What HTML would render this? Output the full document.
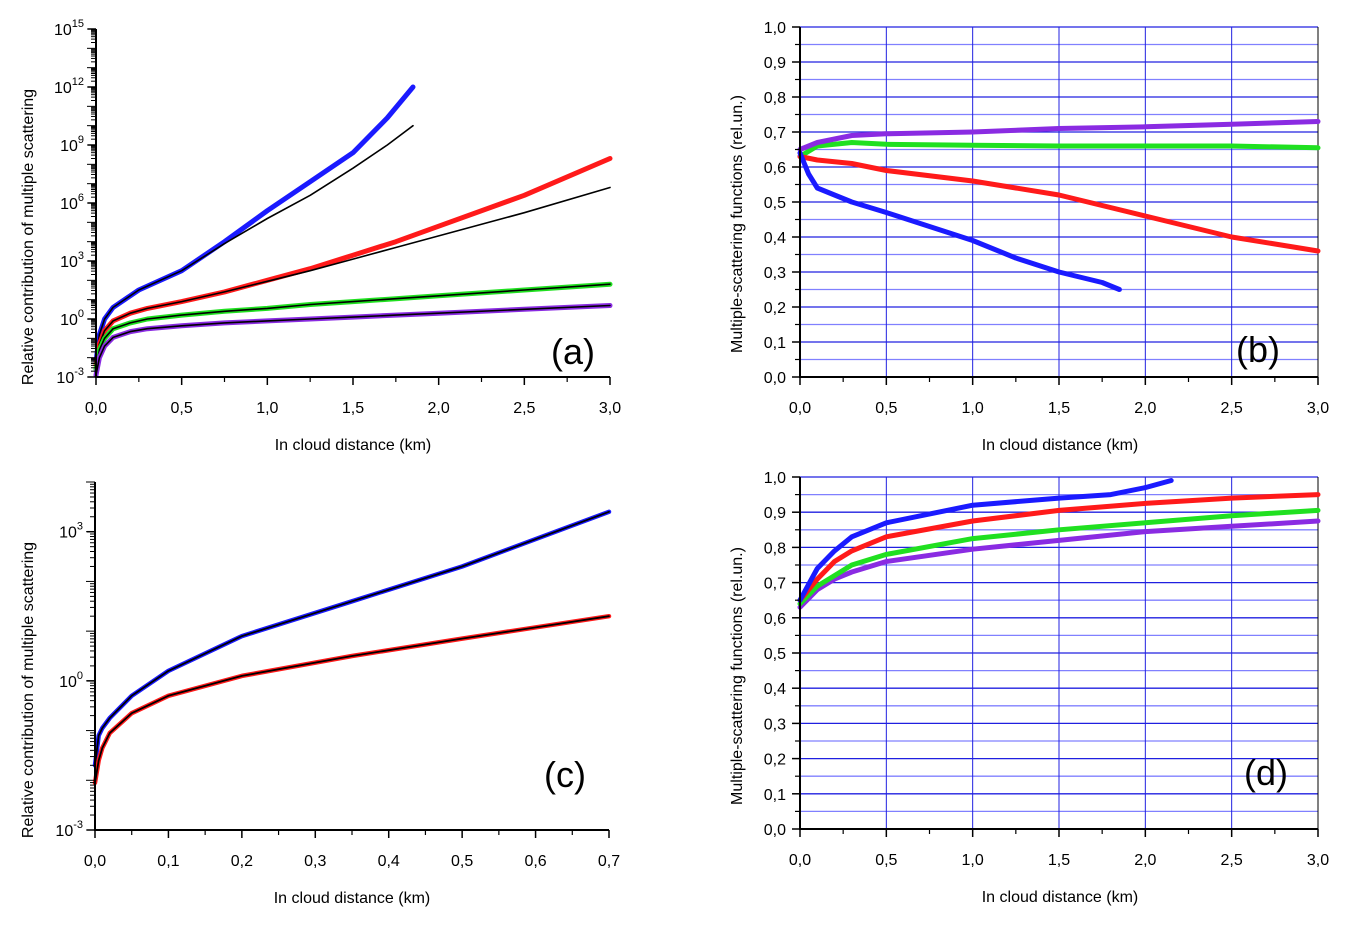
<!DOCTYPE html>
<html><head><meta charset="utf-8">
<style>
html,body{margin:0;padding:0;background:#fff;}
svg{display:block;font-family:"Liberation Sans",Arial,sans-serif;}
</style></head>
<body>
<svg id="fig" width="1349" height="925" viewBox="0 0 1349 925" xmlns="http://www.w3.org/2000/svg"></svg>
<script>
// ---------- Panel (a) data: log10 values ----------
const aX = [0,0.02,0.05,0.1,0.2,0.3,0.5,0.75,1.0,1.25,1.5,1.75,2.0,2.5,3.0];
const aBlueX = [0,0.02,0.05,0.1,0.25,0.5,0.75,1.0,1.25,1.5,1.7,1.85];
const aBlue = [-2.2,-0.8,0.0,0.6,1.5,2.5,4.0,5.6,7.1,8.6,10.4,12.0];
const aBlueFit = [-2.2,-0.8,0.0,0.6,1.5,2.5,3.9,5.2,6.4,7.8,9.0,10.0];
const aRed = [-2.4,-1.3,-0.6,-0.1,0.3,0.55,0.9,1.4,2.0,2.6,3.3,4.0,4.8,6.4,8.3];
const aRedFit = [-2.4,-1.3,-0.6,-0.1,0.3,0.55,0.9,1.4,1.95,2.5,3.1,3.7,4.3,5.5,6.8];
const aGreen = [-2.6,-1.6,-1.0,-0.5,-0.2,0.0,0.2,0.4,0.55,0.75,0.9,1.05,1.2,1.5,1.8];
const aPurple = [-2.9,-2.0,-1.4,-0.95,-0.65,-0.5,-0.35,-0.2,-0.1,0.0,0.1,0.2,0.3,0.5,0.7];
// ---------- Panel (b) ----------
const bBlueX = [0,0.05,0.1,0.2,0.3,0.5,0.75,1.0,1.25,1.5,1.75,1.85];
const bBlue = [0.64,0.58,0.54,0.52,0.50,0.47,0.43,0.39,0.34,0.30,0.27,0.25];
const bX = [0,0.1,0.3,0.5,1.0,1.5,2.0,2.5,3.0];
const bRed = [0.63,0.62,0.61,0.59,0.56,0.52,0.46,0.40,0.36];
const bGreen = [0.63,0.66,0.67,0.665,0.662,0.66,0.66,0.66,0.655];
const bPurple = [0.65,0.67,0.69,0.695,0.70,0.71,0.715,0.722,0.73];
// ---------- Panel (c): log10 ----------
const cX = [0,0.005,0.01,0.02,0.05,0.1,0.2,0.35,0.5,0.7];
const cBlue = [-1.7,-1.1,-0.95,-0.75,-0.3,0.2,0.9,1.6,2.3,3.4];
const cRed = [-2.05,-1.6,-1.35,-1.05,-0.65,-0.3,0.1,0.5,0.85,1.3];
// ---------- Panel (d) ----------
const dBlueX = [0,0.1,0.2,0.3,0.5,1.0,1.5,1.8,2.0,2.15];
const dBlue = [0.65,0.74,0.79,0.83,0.87,0.92,0.94,0.95,0.97,0.99];
const dX = [0,0.1,0.2,0.3,0.5,1.0,1.5,2.0,2.5,3.0];
const dRed = [0.65,0.71,0.76,0.79,0.83,0.875,0.905,0.925,0.94,0.95];
const dGreen = [0.64,0.69,0.72,0.75,0.78,0.825,0.85,0.87,0.89,0.905];
const dPurple = [0.63,0.68,0.71,0.73,0.76,0.795,0.82,0.845,0.86,0.875];

const NS="http://www.w3.org/2000/svg";
const svg=document.getElementById('fig');
function el(tag,attrs,parent){const e=document.createElementNS(NS,tag);for(const k in attrs)e.setAttribute(k,attrs[k]);(parent||svg).appendChild(e);return e;}
function txt(x,y,s,size,anchor,parent){const t=el('text',{x:x,y:y,'font-size':size,'text-anchor':anchor||'middle',fill:'#000'},parent);t.textContent=s;return t;}

function panel(cfg){
  const g=el('g',{});
  
  
  const sx=v=>cfg.x0+(v-cfg.xmin)/(cfg.xmax-cfg.xmin)*(cfg.x1-cfg.x0);
  const sy=v=>cfg.y0-(v-cfg.ymin)/(cfg.ymax-cfg.ymin)*(cfg.y0-cfg.y1);
  if(cfg.grid){
    for(let v=cfg.ymin;v<=cfg.ymax+1e-9;v+=0.05){
      const l=el('line',{x1:cfg.x0,x2:cfg.x1,y1:sy(v),y2:sy(v),stroke:(Math.round(v*20)%2)?'#8080ff':'#2020e0','stroke-width':1.3},g);
      
      
    }
    for(let v=0.5;v<cfg.xmax-1e-9;v+=0.5){
      const l=el('line',{x1:sx(v),x2:sx(v),y1:cfg.y0,y2:cfg.y1,stroke:'#2020e0','stroke-width':1},g);
      
      
    }
    el('line',{x1:cfg.x1,x2:cfg.x1,y1:cfg.y0,y2:cfg.y1,stroke:'#000','stroke-width':1},g);
  }
  cfg.series.forEach(s=>{
    const pts=s.xs.map((x,i)=>sx(x).toFixed(1)+','+sy(s.ys[i]).toFixed(1)).join(' ');
    const p=el('polyline',{points:pts,fill:'none',stroke:s.color,'stroke-width':s.w,'stroke-linejoin':'round','stroke-linecap':'round'},g);
    
    
  });
  const ax=el('path',{d:`M${cfg.x0},${cfg.y1} V${cfg.y0} H${cfg.x1}`,stroke:'#000','stroke-width':2,fill:'none'},g);
  
  
  cfg.xticks.forEach((v,i)=>{
    el('line',{x1:sx(v),x2:sx(v),y1:cfg.y0,y2:cfg.y0+8,stroke:'#000','stroke-width':1.5},g);
    const t=txt(sx(v),cfg.y0+36,cfg.xlabels[i],16,'middle',g);
    
    
  });
  for(let i=0;i<cfg.xticks.length-1;i++){const m=(cfg.xticks[i]+cfg.xticks[i+1])/2;el('line',{x1:sx(m),x2:sx(m),y1:cfg.y0,y2:cfg.y0+5,stroke:'#000','stroke-width':1.2},g);}
  if(cfg.log){
    for(let d=Math.floor(cfg.ymin);d<cfg.ymax;d++){
      for(let k=1;k<=9;k++){const v=d+Math.log10(k);if(v>cfg.ymax)break;
        el('line',{x1:cfg.x0-(k==1?9:5),x2:cfg.x0,y1:sy(v),y2:sy(v),stroke:'#000','stroke-width':1},g);}
    }
    el('line',{x1:cfg.x0-9,x2:cfg.x0,y1:sy(cfg.ymax),y2:sy(cfg.ymax),stroke:'#000','stroke-width':1},g);
  }
  cfg.yticks.forEach((v,i)=>{
    el('line',{x1:cfg.x0-8,x2:cfg.x0,y1:sy(v),y2:sy(v),stroke:'#000','stroke-width':1.5},g);
    let t;
    if(cfg.log){
      t=el('text',{x:cfg.x0-12,y:sy(v)+6,'font-size':16,'text-anchor':'end'},g);
      t.innerHTML='10<tspan dy="-8" font-size="11">'+cfg.ylabels[i]+'</tspan>';
    } else {t=txt(cfg.x0-14,sy(v)+6,cfg.ylabels[i],16,'end',g);
      if(v<cfg.ymax-1e-9) el('line',{x1:cfg.x0-5,x2:cfg.x0,y1:sy(v+0.05),y2:sy(v+0.05),stroke:'#000','stroke-width':1.2},g);}
    
    
  });
  const xt=txt(cfg.xtx,cfg.y0+73,'In cloud distance (km)',16,'middle',g);
  
  
  const yt=el('text',{x:0,y:0,'font-size':16,'text-anchor':'middle',transform:`translate(${cfg.ytx},${cfg.yty}) rotate(-90)`},g);
  yt.textContent=cfg.ytitle;
  
  
  const lb=txt(cfg.lbx,cfg.lby,cfg.letter,36,'middle',g);
  
  
}
const x3=[0,0.5,1,1.5,2,2.5,3], x3l=['0,0','0,5','1,0','1,5','2,0','2,5','3,0'];
const lin=[0,0.1,0.2,0.3,0.4,0.5,0.6,0.7,0.8,0.9,1.0], linl=lin.map(v=>v.toFixed(1).replace('.',','));
panel({name:'panel-a',x0:96,x1:610,y0:377,y1:29,xmin:0,xmax:3,ymin:-3,ymax:15,log:true,
  xticks:x3,xlabels:x3l,yticks:[-3,0,3,6,9,12,15],ylabels:['-3','0','3','6','9','12','15'],
  xtx:353,ytx:33,yty:237,ytitle:'Relative contribution of multiple scattering',letter:'(a)',lbx:573,lby:364,
  series:[
    {name:'series-blue',xs:aBlueX,ys:aBlue,color:'#1a1aff',w:5},
    {name:'fit-blue',xs:aBlueX,ys:aBlueFit,color:'#000',w:1.6},
    {name:'series-red',xs:aX,ys:aRed,color:'#ff1a1a',w:5},
    {name:'fit-red',xs:aX,ys:aRedFit,color:'#000',w:1.6},
    {name:'series-green',xs:aX,ys:aGreen,color:'#20e020',w:5},
    {name:'fit-green',xs:aX,ys:aGreen,color:'#000',w:1.6},
    {name:'series-purple',xs:aX,ys:aPurple,color:'#8a2be2',w:5},
    {name:'fit-purple',xs:aX,ys:aPurple,color:'#000',w:1.6}]});
panel({name:'panel-b',x0:800,x1:1318,y0:377,y1:27,xmin:0,xmax:3,ymin:0,ymax:1,grid:true,
  xticks:x3,xlabels:x3l,yticks:lin,ylabels:linl,
  xtx:1060,ytx:742,yty:224,ytitle:'Multiple-scattering functions (rel.un.)',letter:'(b)',lbx:1258,lby:362,
  series:[
    {name:'series-green',xs:bX,ys:bGreen,color:'#20e020',w:5},
    {name:'series-purple',xs:bX,ys:bPurple,color:'#8a2be2',w:5},
    {name:'series-red',xs:bX,ys:bRed,color:'#ff1a1a',w:5},
    {name:'series-blue',xs:bBlueX,ys:bBlue,color:'#1a1aff',w:5}]});
panel({name:'panel-c',x0:95,x1:609,y0:830,y1:482,xmin:0,xmax:0.7,ymin:-3,ymax:4,log:true,
  xticks:[0,0.1,0.2,0.3,0.4,0.5,0.6,0.7],xlabels:['0,0','0,1','0,2','0,3','0,4','0,5','0,6','0,7'],
  yticks:[-3,0,3],ylabels:['-3','0','3'],
  xtx:352,ytx:33,yty:690,ytitle:'Relative contribution of multiple scattering',letter:'(c)',lbx:565,lby:787,
  series:[
    {name:'series-blue',xs:cX,ys:cBlue,color:'#1a1aff',w:4.5},
    {name:'fit-blue',xs:cX,ys:cBlue,color:'#000',w:1.8},
    {name:'series-red',xs:cX,ys:cRed,color:'#ff1a1a',w:4.5},
    {name:'fit-red',xs:cX,ys:cRed,color:'#000',w:1.8}]});
panel({name:'panel-d',x0:800,x1:1318,y0:829,y1:477,xmin:0,xmax:3,ymin:0,ymax:1,grid:true,
  xticks:x3,xlabels:x3l,yticks:lin,ylabels:linl,
  xtx:1060,ytx:742,yty:676,ytitle:'Multiple-scattering functions (rel.un.)',letter:'(d)',lbx:1266,lby:785,
  series:[
    {name:'series-purple',xs:dX,ys:dPurple,color:'#8a2be2',w:5},
    {name:'series-green',xs:dX,ys:dGreen,color:'#20e020',w:5},
    {name:'series-red',xs:dX,ys:dRed,color:'#ff1a1a',w:5},
    {name:'series-blue',xs:dBlueX,ys:dBlue,color:'#1a1aff',w:5}]});
</script>
</body></html>
